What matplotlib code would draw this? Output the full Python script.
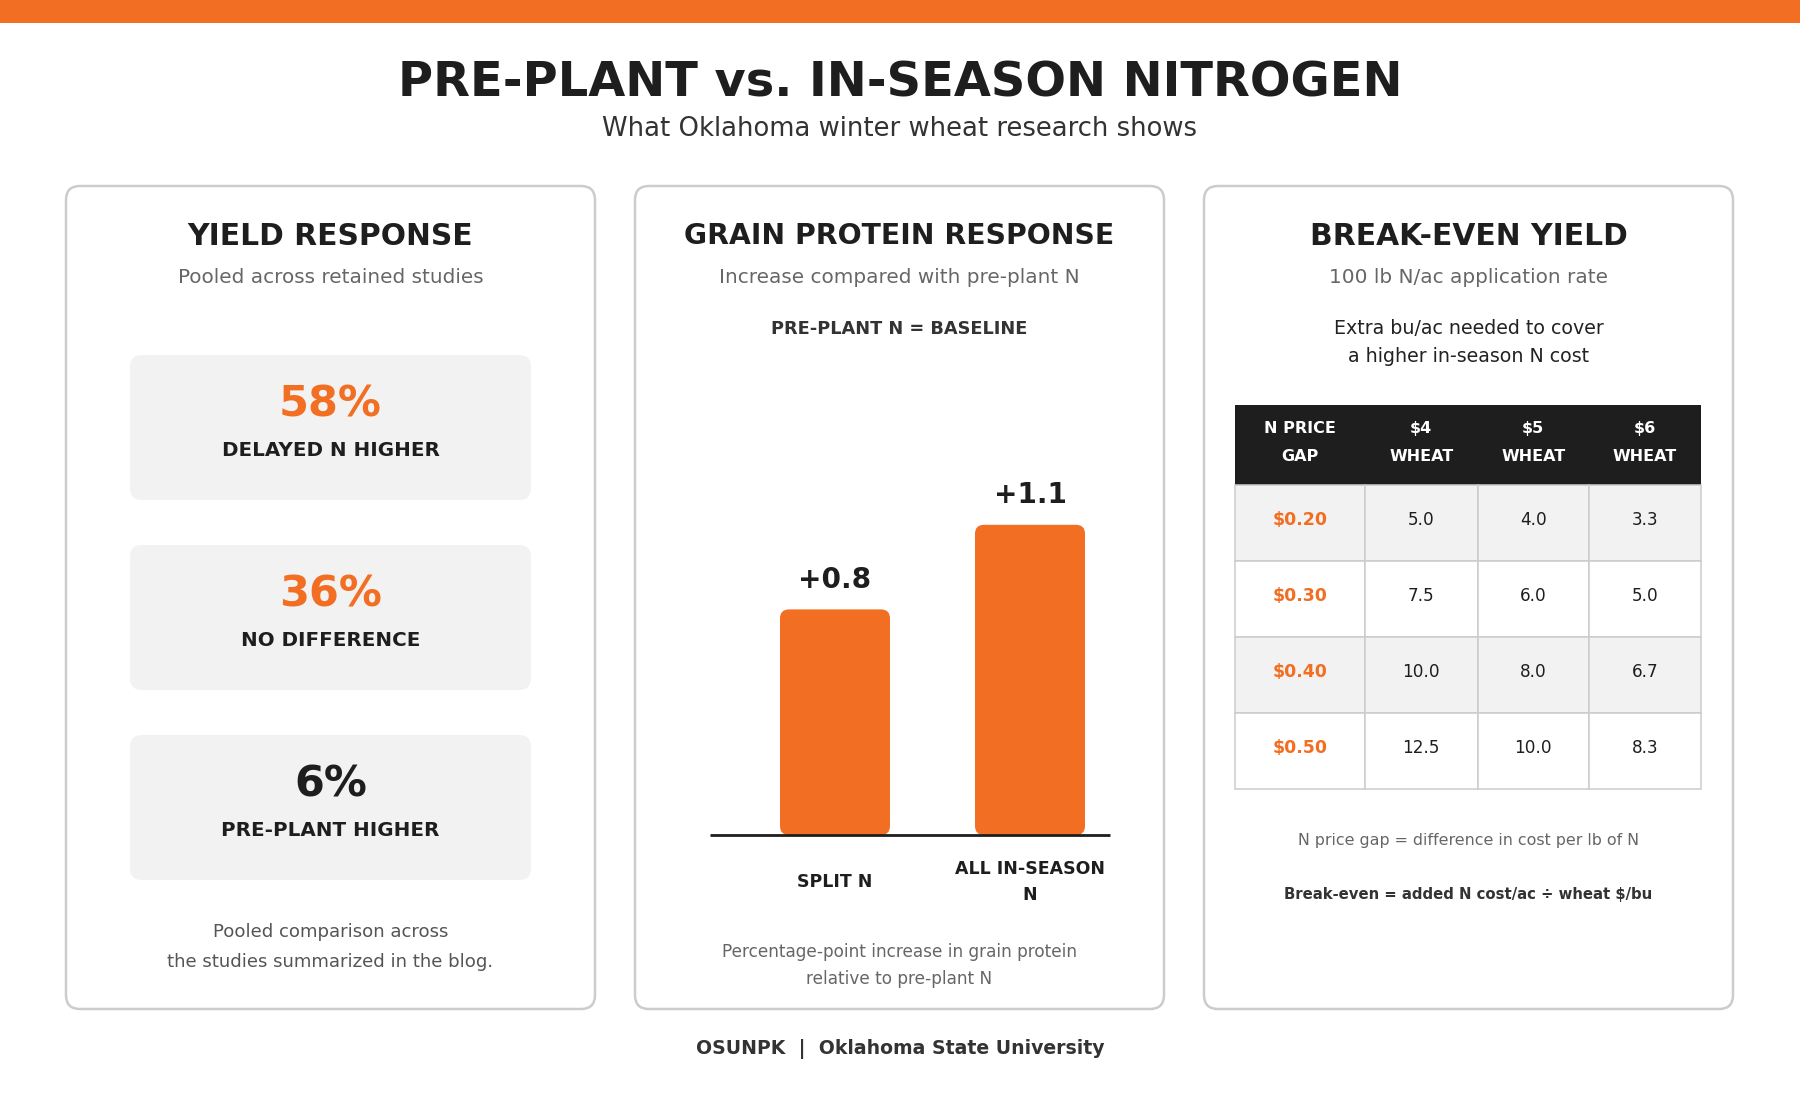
import matplotlib
matplotlib.use("Agg")
import matplotlib.pyplot as plt
from matplotlib.patches import FancyBboxPatch, Rectangle

# ---------------- data ----------------
title = "PRE-PLANT vs. IN-SEASON NITROGEN"
subtitle = "What Oklahoma winter wheat research shows"
footer = "OSUNPK  |  Oklahoma State University"

card_titles = ["YIELD RESPONSE", "GRAIN PROTEIN RESPONSE", "BREAK-EVEN YIELD"]
card_subtitles = ["Pooled across retained studies",
                  "Increase compared with pre-plant N",
                  "100 lb N/ac application rate"]

yield_pcts = [58, 36, 6]
yield_labels = ["DELAYED N HIGHER", "NO DIFFERENCE", "PRE-PLANT HIGHER"]
yield_note = ["Pooled comparison across", "the studies summarized in the blog."]

protein_baseline = "PRE-PLANT N = BASELINE"
protein_cats = ["SPLIT N", "ALL IN-SEASON\nN"]
protein_vals = [0.8, 1.1]
protein_note = ["Percentage-point increase in grain protein", "relative to pre-plant N"]

breakeven_intro = ["Extra bu/ac needed to cover", "a higher in-season N cost"]
table_header = ["N PRICE\nGAP", "$4\nWHEAT", "$5\nWHEAT", "$6\nWHEAT"]
n_price_gap = ["$0.20", "$0.30", "$0.40", "$0.50"]
wheat_4 = [5.0, 7.5, 10.0, 12.5]
wheat_5 = [4.0, 6.0, 8.0, 10.0]
wheat_6 = [3.3, 5.0, 6.7, 8.3]
table_notes = ["N price gap = difference in cost per lb of N",
               "Break-even = added N cost/ac \u00f7 wheat $/bu"]

# ---------------- style ----------------
ORANGE = "#F26E22"
DARK = "#1E1E1E"
GREY_TXT = "#666666"
MID_TXT = "#333333"
BORDER = "#CCCCCC"
BOXFILL = "#F2F2F2"

plt.rcParams["font.family"] = ["DejaVu Sans"]

W, H = 1800, 1100
fig = plt.figure(figsize=(W / 100, H / 100), dpi=100)
fig.patch.set_facecolor("white")
ax = fig.add_axes([0, 0, 1, 1])
ax.set_xlim(0, W)
ax.set_ylim(H, 0)
ax.axis("off")

PX_PER_PT = 100 / 72.0


def txt(x, y, s, size, color=DARK, weight="normal", ha="center", axis=None):
    """y is the visual centre of cap height (pixel coords, top-down)."""
    a = axis if axis is not None else ax
    base = y + 0.36 * size * PX_PER_PT
    a.text(x, base, s, fontsize=size, color=color, fontweight=weight,
           ha=ha, va="baseline", parse_math=False)


# top band
ax.add_patch(Rectangle((0, 0), W, 23, facecolor=ORANGE, edgecolor="none"))

txt(900, 79, title, 34.5, DARK, "bold")
txt(900, 127, subtitle, 18.6, MID_TXT)

# cards
card_left = [66, 635, 1204]
card_w = 529
card_top, card_bot = 186, 1009
centers = [l + card_w / 2 for l in card_left]
heading_sizes = [21.4, 20.3, 21.4]
for l in card_left:
    ax.add_patch(FancyBboxPatch((l, card_top), card_w, card_bot - card_top,
                                boxstyle="round,pad=0,rounding_size=14",
                                facecolor="white", edgecolor=BORDER, linewidth=1.8))
for c, t, s, hs in zip(centers, card_titles, card_subtitles, heading_sizes):
    txt(c, 234, t, hs, DARK, "bold")
    txt(c, 275.5, s, 14.4, GREY_TXT)

# ---- card 1 : yield response ----
box_x, box_w, box_h = 130, 401, 145
box_tops = [355, 545, 735]
pct_colors = [ORANGE, ORANGE, DARK]
for top, p, lab, col in zip(box_tops, yield_pcts, yield_labels, pct_colors):
    ax.add_patch(FancyBboxPatch((box_x, top), box_w, box_h,
                                boxstyle="round,pad=0,rounding_size=12",
                                facecolor=BOXFILL, edgecolor="none"))
    txt(centers[0], top + 46, f"{p}%", 31, col, "bold")
    txt(centers[0], top + 94, lab, 14.3, DARK, "bold")
txt(centers[0], 930, yield_note[0], 13.1, "#555555")
txt(centers[0], 960, yield_note[1], 13.1, "#555555")

# ---- card 2 : protein bars ----
txt(centers[1], 328, protein_baseline, 12.8, MID_TXT, "bold")

x_left_px, x_right_px = 709.5, 1110
base_px = 835
px_per_unit_y = 282.0
px_per_unit_x = 195.0
ytop = 1.4
top_px = base_px - px_per_unit_y * ytop
xmin = -(835 - x_left_px) / px_per_unit_x
xmax = 1 + (x_right_px - 1030) / px_per_unit_x
bax = fig.add_axes([x_left_px / W, (H - base_px) / H,
                    (x_right_px - x_left_px) / W, (base_px - top_px) / H])
bax.set_xlim(xmin, xmax)
bax.set_ylim(0, ytop)
bax.axis("off")
bar_w = 110 / px_per_unit_x
r_px = 9
for i, v in enumerate(protein_vals):
    bax.add_patch(FancyBboxPatch((i - bar_w / 2, 0), bar_w, v,
                                 boxstyle=f"round,pad=0,rounding_size={r_px / px_per_unit_x}",
                                 mutation_aspect=px_per_unit_x / px_per_unit_y,
                                 facecolor=ORANGE, edgecolor="none"))
    bax.text(i, v + 0.077, f"+{v:.1f}", fontsize=20.2, fontweight="bold",
             color=DARK, ha="center", va="baseline", parse_math=False)
    bax.text(i, -47 / px_per_unit_y, protein_cats[i], fontsize=12.5,
             fontweight="bold", color=DARK, ha="center", va="center",
             linespacing=1.6, clip_on=False, parse_math=False)
bax.plot([xmin, xmax], [0, 0], color=DARK, linewidth=2.0,
         solid_capstyle="butt", clip_on=False)

txt(centers[1], 950.5, protein_note[0], 12.2, GREY_TXT)
txt(centers[1], 978, protein_note[1], 12.2, GREY_TXT)

# ---- card 3 : break-even table ----
txt(centers[2], 327, breakeven_intro[0], 13.7, "#222222")
txt(centers[2], 355, breakeven_intro[1], 13.7, "#222222")

col_edges = [1235, 1365, 1477.5, 1589, 1701]
head_top, head_bot = 405, 485
row_h = 76
ax.add_patch(Rectangle((col_edges[0], head_top), col_edges[-1] - col_edges[0],
                       head_bot - head_top, facecolor=DARK, edgecolor="none"))
for j, hdr in enumerate(table_header):
    cx = (col_edges[j] + col_edges[j + 1]) / 2
    l1, l2 = hdr.split("\n")
    txt(cx, 427, l1, 11.5, "white", "bold")
    txt(cx, 455, l2, 11.5, "white", "bold")

columns = [n_price_gap, wheat_4, wheat_5, wheat_6]
for r in range(len(n_price_gap)):
    top = head_bot + r * row_h
    fill = BOXFILL if r % 2 == 0 else "white"
    for j, col in enumerate(columns):
        x0, x1 = col_edges[j], col_edges[j + 1]
        ax.add_patch(Rectangle((x0, top), x1 - x0, row_h, facecolor=fill,
                               edgecolor=BORDER, linewidth=1.1))
        cx = (x0 + x1) / 2
        if j == 0:
            txt(cx, top + 34, col[r], 12.5, ORANGE, "bold")
        else:
            txt(cx, top + 34, f"{col[r]:.1f}", 12.2, DARK)

txt(centers[2], 839, table_notes[0], 11.4, GREY_TXT)
txt(centers[2], 894, table_notes[1], 10.7, MID_TXT, "bold")

# footer
txt(900, 1047, footer, 13.6, MID_TXT, "bold")

fig.savefig("out.png", dpi=100, facecolor="white")
